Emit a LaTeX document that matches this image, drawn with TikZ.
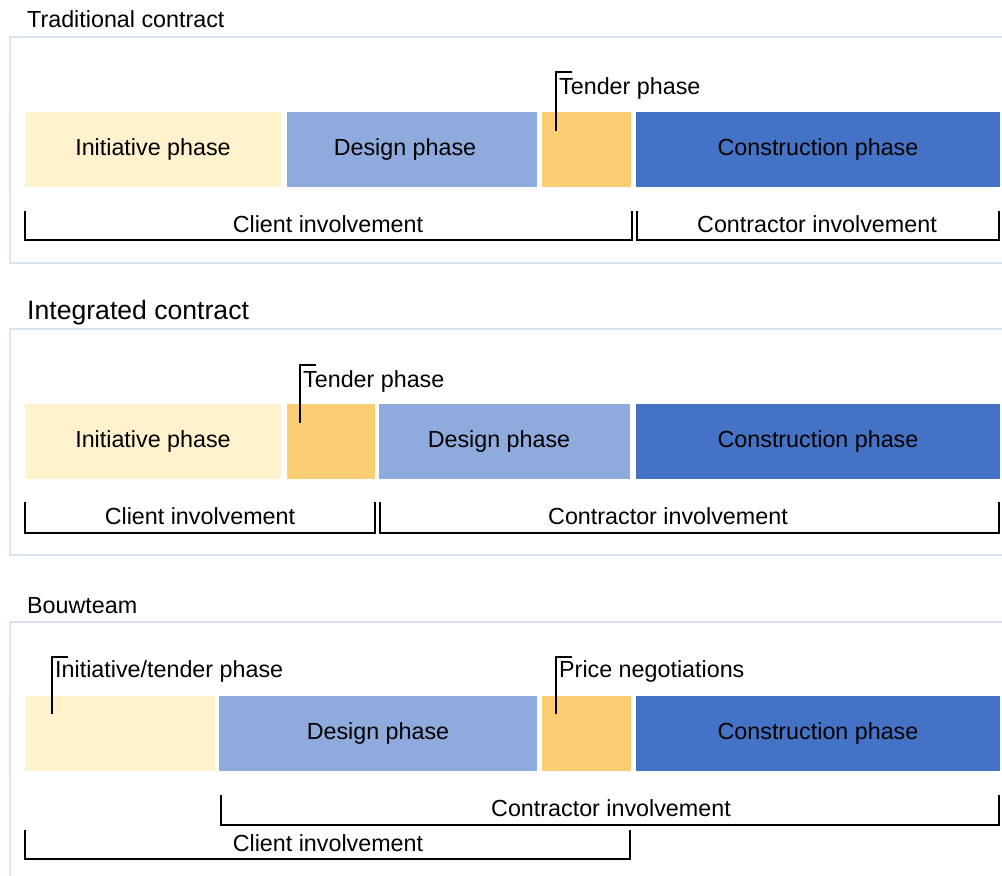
\documentclass[tikz,border=0pt]{standalone}
\usepackage{fontspec}
\setmainfont{Liberation Sans}
\definecolor{initcol}{HTML}{FFF2CC}
\definecolor{designcol}{HTML}{8FAADC}
\definecolor{tendercol}{HTML}{FBCE74}
\definecolor{buildcol}{HTML}{4472C4}
\definecolor{framecol}{HTML}{DAE3F3}
\tikzset{
  phasebox/.style={anchor=north west, minimum height=75pt, inner sep=0pt, outer sep=0pt,
    font=\fontsize{23.3}{27}\selectfont},
  txt/.style={inner sep=0pt, font=\fontsize{23.3}{27}\selectfont},
  heading/.style={anchor=base west, inner sep=0pt, font=\fontsize{23.3}{27}\selectfont},
  panelframe/.style={draw=framecol, line width=2pt},
  bracket/.style={draw=black, line width=2pt},
  leader/.style={draw=black, line width=2pt}
}
\begin{document}
\begin{tikzpicture}[x=1pt,y=-1pt]
\clip (0,0) rectangle (1002,876);
\fill[white] (0,0) rectangle (1002,876);

% ---------- Traditional contract ----------
\node[heading] (h1) at (27,27) {Traditional contract};
\draw[panelframe] (10,37) rectangle (1012,263);
\node[phasebox, fill=initcol, minimum width=256pt] (i1) at (25,112) {Initiative phase};
\node[phasebox, fill=designcol, minimum width=250pt] (d1) at (287,112) {};
\node[txt] (d1txt) at (405,149.5) {Design phase};
\node[phasebox, fill=tendercol, minimum width=89pt] (t1) at (542,112) {};
\node[phasebox, fill=buildcol, minimum width=364pt] (c1) at (636,112) {Construction phase};
\node[heading] (t1lbl) at (559,94) {Tender phase};
\coordinate (t1foot) at (556,131);
\coordinate (t1top) at (556,72);
\coordinate (t1tick) at (572,72);
\draw[leader] (t1foot) -- (t1top) -- (t1tick);
\coordinate (b1a) at (25,211); \coordinate (b1b) at (25,240);
\coordinate (b1c) at (632,240); \coordinate (b1d) at (632,211);
\draw[bracket] (b1a) -- (b1b) -- (b1c) -- (b1d);
\coordinate (b2a) at (637,211); \coordinate (b2b) at (637,240);
\coordinate (b2c) at (999,240); \coordinate (b2d) at (999,211);
\draw[bracket] (b2a) -- (b2b) -- (b2c) -- (b2d);
\node[txt] (cl1) at (328,224) {Client involvement};
\node[txt] (co1) at (817,224) {Contractor involvement};

% ---------- Integrated contract ----------
\node[heading, font=\fontsize{26.6}{30}\selectfont] (h2) at (27,319) {Integrated contract};
\draw[panelframe] (10,329) rectangle (1012,555);
\node[phasebox, fill=initcol, minimum width=256pt] (i2) at (25,404) {Initiative phase};
\node[phasebox, fill=tendercol, minimum width=88pt] (t2) at (287,404) {};
\node[phasebox, fill=designcol, minimum width=251pt] (d2) at (379,404) {};
\node[txt] (d2txt) at (499,441.5) {Design phase};
\node[phasebox, fill=buildcol, minimum width=364pt] (c2) at (636,404) {Construction phase};
\node[heading] (t2lbl) at (303,387) {Tender phase};
\coordinate (t2foot) at (300,423);
\coordinate (t2top) at (300,365);
\coordinate (t2tick) at (316,365);
\draw[leader] (t2foot) -- (t2top) -- (t2tick);
\coordinate (b3a) at (25,502); \coordinate (b3b) at (25,533);
\coordinate (b3c) at (375,533); \coordinate (b3d) at (375,502);
\draw[bracket] (b3a) -- (b3b) -- (b3c) -- (b3d);
\coordinate (b4a) at (380,502); \coordinate (b4b) at (380,533);
\coordinate (b4c) at (999,533); \coordinate (b4d) at (999,502);
\draw[bracket] (b4a) -- (b4b) -- (b4c) -- (b4d);
\node[txt] (cl2) at (200,516) {Client involvement};
\node[txt] (co2) at (668,516) {Contractor involvement};

% ---------- Bouwteam ----------
\node[heading] (h3) at (27,613) {Bouwteam};
\draw[panelframe] (10,622) rectangle (1012,900);
\node[phasebox, fill=initcol, minimum width=190pt] (i3) at (25,696) {};
\node[phasebox, fill=designcol, minimum width=318pt] (d3) at (219,696) {Design phase};
\node[phasebox, fill=tendercol, minimum width=89pt] (p3) at (542,696) {};
\node[phasebox, fill=buildcol, minimum width=364pt] (c3) at (636,696) {Construction phase};
\node[heading] (i3lbl) at (55,677) {Initiative/tender phase};
\coordinate (i3foot) at (52,714);
\coordinate (i3top) at (52,657);
\coordinate (i3tick) at (68,657);
\draw[leader] (i3foot) -- (i3top) -- (i3tick);
\node[heading] (p3lbl) at (559,677) {Price negotiations};
\coordinate (p3foot) at (556,714);
\coordinate (p3top) at (556,657);
\coordinate (p3tick) at (572,657);
\draw[leader] (p3foot) -- (p3top) -- (p3tick);
\coordinate (b5a) at (221,795); \coordinate (b5b) at (221,825);
\coordinate (b5c) at (999,825); \coordinate (b5d) at (999,795);
\draw[bracket] (b5a) -- (b5b) -- (b5c) -- (b5d);
\coordinate (b6a) at (25,830); \coordinate (b6b) at (25,859);
\coordinate (b6c) at (630,859); \coordinate (b6d) at (630,830);
\draw[bracket] (b6a) -- (b6b) -- (b6c) -- (b6d);
\node[txt] (co3) at (611,808) {Contractor involvement};
\node[txt] (cl3) at (328,843) {Client involvement};
\end{tikzpicture}
\end{document}
